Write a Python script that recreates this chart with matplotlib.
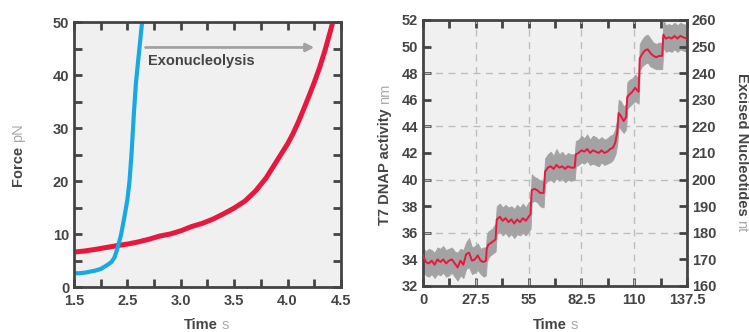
import matplotlib
matplotlib.use("Agg")
import matplotlib.pyplot as plt

plt.rcParams["font.family"] = ["Liberation Sans", "DejaVu Sans"]

DARK = "#444444"
LIGHT = "#aaaaaa"
BG = "#f0f0f0"
RED = "#e8173e"
BLUE = "#18a8e3"
GRAY = "#a3a3a3"

# ---- left panel: force vs time ----
force_xticks = [2.0, 2.5, 3.0, 3.5, 4.0, 4.5]
force_xticklabels = ["1.5", "2.5", "3.0", "3.5", "4.0", "4.5"]

blue_t = [2.01, 2.05, 2.1, 2.15, 2.2, 2.25, 2.3, 2.35, 2.38, 2.41, 2.44, 2.47,
          2.5, 2.52, 2.54, 2.56, 2.58, 2.6, 2.62, 2.64]
blue_f = [2.6, 2.6, 2.7, 2.9, 3.1, 3.4, 4.0, 4.7, 5.6, 7.5, 9.8, 13.0,
          16.5, 20.0, 25.5, 32.5, 38.5, 42.5, 46.5, 50.5]

red_t = [2.01, 2.1, 2.2, 2.3, 2.4, 2.5, 2.6, 2.7, 2.8, 2.9, 3.0, 3.1, 3.2, 3.3,
         3.4, 3.5, 3.6, 3.7, 3.8, 3.9, 4.0, 4.05, 4.1, 4.15, 4.2, 4.25, 4.3,
         4.35, 4.4, 4.43]
red_f = [6.6, 6.8, 7.1, 7.45, 7.8, 8.1, 8.5, 9.0, 9.6, 10.0, 10.6, 11.4, 12.0,
         12.8, 13.8, 14.9, 16.2, 18.1, 20.6, 23.8, 27.0, 28.9, 31.1, 33.5, 36.0,
         38.6, 41.4, 44.6, 48.2, 50.5]

# ---- right panel: T7 DNAP activity ----
act_xticks = [0, 27.5, 55, 82.5, 110, 137.5]
act_xticklabels = ["0", "27.5", "55", "82.5", "110", "137.5"]

act_t = [0, 1.5, 3, 4.5, 6, 7.5, 9, 10.5, 12, 13.5, 15, 16.5, 18, 19.5, 21,
         22.5, 24, 25.5, 27, 28.5, 30, 31.5, 32.8,
         33.2, 34.0, 35.0, 36.0, 37.8,
         38.4, 40, 41.5, 43, 44.5, 46, 47.5, 49, 50.5, 52, 53.5, 55, 56.0,
         56.6, 58, 59.5, 61, 62.8,
         63.6, 65, 66.5, 68, 69.5, 71, 72.5, 74, 75.5, 77, 79.0,
         79.6, 81, 82.5, 84, 85.5, 87, 88.5, 90, 91.5, 93, 94.5, 96, 97.5, 99,
         100.2, 101.2,
         101.9, 103, 104.5, 105.8,
         106.4, 107.5, 109, 110.5, 112.3,
         112.9, 114, 115.5, 117, 118.5, 120, 121.5, 123, 124.6,
         125.2, 126.5, 128, 129.5, 131, 132.5, 134, 135.5, 137.5]
act_filt = [34.3, 33.8, 33.7, 33.9, 33.6, 34.0, 33.8, 34.0, 33.7, 33.9, 34.0,
            33.7, 33.4, 33.9, 33.6, 34.4, 34.5, 33.9, 34.0, 34.3, 33.9, 33.8, 33.9,
            34.8, 35.1, 35.2, 35.3, 35.5,
            37.0, 37.2, 36.9, 37.1, 36.8, 37.0, 36.7, 37.0, 36.8, 37.1, 36.9, 37.2, 37.4,
            39.2, 39.3, 39.2, 39.0, 39.0,
            40.6, 40.9, 41.0, 40.8, 41.1, 40.9, 41.0, 40.8, 41.0, 40.9, 40.9,
            41.9, 42.0, 42.2, 42.1, 42.3, 42.0, 42.2, 42.1, 42.0, 42.2, 42.0, 42.1,
            42.3, 42.4, 42.8, 43.6,
            45.0, 44.8, 44.4, 44.7,
            46.2, 46.4, 46.6, 46.9, 46.6,
            49.1, 49.4, 49.7, 49.8, 49.5, 49.3, 49.2, 49.3, 49.3,
            50.9, 50.6, 50.7, 50.6, 50.8, 50.6, 50.8, 50.7, 50.6]
act_raw_hi = [34.9, 34.6, 34.8, 34.7, 34.5, 34.9, 34.8, 35.0, 34.7, 34.8, 34.9,
              34.6, 34.5, 34.8, 34.7, 35.3, 35.6, 34.9, 35.0, 35.2, 34.8, 34.9, 34.9,
              35.8, 36.1, 36.2, 36.3, 36.7,
              38.0, 38.2, 37.9, 38.1, 37.9, 38.0, 37.8, 38.1, 37.9, 38.2, 37.9, 38.3, 38.4,
              40.4, 40.2, 40.1, 39.9, 39.9,
              41.6, 41.9, 42.1, 41.8, 42.3, 41.9, 42.1, 41.8, 42.0, 41.9, 41.9,
              42.9, 43.0, 43.3, 43.1, 43.4, 43.0, 43.3, 43.2, 43.0, 43.2, 43.0, 43.1,
              43.3, 43.4, 43.8, 44.6,
              46.0, 45.9, 45.5, 45.7,
              47.3, 47.5, 47.6, 47.9, 47.6,
              50.2, 50.5, 50.8, 50.9, 50.6, 50.3, 50.2, 50.3, 50.3,
              52.0, 51.6, 51.7, 51.6, 51.8, 51.6, 51.8, 51.7, 51.6]
act_raw_lo = [33.1, 32.8, 32.7, 32.9, 32.6, 32.9, 32.8, 33.0, 32.7, 32.8, 33.0,
              32.7, 32.4, 32.8, 32.6, 33.3, 33.4, 32.9, 33.0, 33.2, 32.9, 32.7, 32.8,
              33.8, 34.1, 34.3, 34.4, 34.6,
              35.9, 36.1, 35.8, 36.0, 35.7, 35.9, 35.6, 35.9, 35.8, 36.0, 35.8, 36.1, 36.3,
              38.3, 38.4, 38.3, 38.0, 37.9,
              39.7, 39.9, 40.0, 39.8, 40.1, 39.9, 40.1, 39.8, 40.0, 39.9, 40.0,
              41.0, 41.1, 41.3, 41.2, 41.4, 41.1, 41.2, 41.1, 41.0, 41.3, 41.1, 41.2,
              41.3, 41.5, 41.9, 42.7,
              44.0, 43.8, 43.5, 43.8,
              45.3, 45.5, 45.7, 45.9, 45.7,
              48.2, 48.5, 48.7, 48.8, 48.5, 48.4, 48.3, 48.3, 48.3,
              49.9, 49.6, 49.7, 49.6, 49.8, 49.6, 49.8, 49.7, 49.6]


def style_axes(ax):
    ax.set_facecolor(BG)
    for sp in ax.spines.values():
        sp.set_color(DARK)
        sp.set_linewidth(2)
    ax.tick_params(which="both", direction="in", length=6, width=2,
                   color=DARK, labelcolor=DARK, labelsize=10.5)
    for lab in ax.get_xticklabels() + ax.get_yticklabels():
        lab.set_fontweight("bold")


def two_tone_label(fig, x, y, bold, light, rotation=0):
    t1 = fig.text(x, y, bold + " ", color=DARK, fontsize=10.5, fontweight="bold",
                  rotation=rotation, ha="center", va="center")
    if rotation == 90:
        fig.canvas.draw()
        return fig.text(0, 0, light, color=LIGHT, fontsize=10.5)
    return t1


fig = plt.figure(figsize=(7.49, 3.32), dpi=100)
ax1 = fig.add_axes([0.0988, 0.1355, 0.3564, 0.7982])
ax2 = fig.add_axes([0.5648, 0.1386, 0.3524, 0.8012])

# ---- left panel ----
ax1.plot(red_t, red_f, color=RED, lw=3.6, solid_capstyle="butt")
ax1.plot(blue_t, blue_f, color=BLUE, lw=3.0, solid_capstyle="butt")
ax1.set_xlim(2.0, 4.5)
ax1.set_ylim(0, 50)
ax1.set_xticks(force_xticks)
ax1.set_xticklabels(force_xticklabels)
ax1.set_xticks([2.25, 2.75, 3.25, 3.75, 4.25], minor=True)
ax1.set_yticks([0, 10, 20, 30, 40, 50])
ax1.set_yticks([5, 15, 25, 35, 45], minor=True)
ax1.tick_params(which="both", top=True, right=True)
style_axes(ax1)
ax1.tick_params(axis="x", pad=5)
ax1.annotate("", xy=(4.25, 45.2), xytext=(2.67, 45.2),
             arrowprops=dict(arrowstyle="-|>", color=GRAY, lw=2,
                             mutation_scale=12, shrinkA=0, shrinkB=0))
ax1.text(2.69, 42.6, "Exonucleolysis", color=DARK, fontsize=10.5,
         fontweight="bold", ha="left", va="center")

# ---- right panel ----
ax2.fill_between(act_t, act_raw_lo, act_raw_hi, color=GRAY, lw=0.6,
                 edgecolor=GRAY, zorder=2)
ax2.plot(act_t, act_filt, color=RED, lw=1.4, zorder=3)
ax2.set_xlim(0, 137.5)
ax2.set_ylim(32, 52)
ax2.set_xticks(act_xticks)
ax2.set_xticklabels(act_xticklabels)
ax2.set_xticks([13.75, 41.25, 68.75, 96.25, 123.75], minor=True)
ax2.set_yticks(range(32, 53, 2))
ax2.set_axisbelow(True)
for gx in act_xticks[1:-1]:
    ax2.axvline(gx, color="#bdbdbd", lw=1, dashes=(5, 4), zorder=1)
for gy in [36, 40, 44, 48]:
    ax2.axhline(gy, color="#bdbdbd", lw=1, dashes=(5, 4), zorder=1)
ax2.tick_params(which="both", top=True)
style_axes(ax2)
ax2.tick_params(axis="x", pad=5)

ax3 = ax2.twinx()
ax3.set_ylim(160, 260)
ax3.set_yticks(range(160, 261, 10))
for sp in ax3.spines.values():
    sp.set_visible(False)
ax3.tick_params(which="both", direction="in", length=6, width=2,
                color=DARK, labelcolor=DARK, labelsize=10.5)
for lab in ax3.get_yticklabels():
    lab.set_fontweight("bold")

# ---- axis labels (bold name + light unit) ----
lab_kw = dict(fontsize=10.5)
fig.canvas.draw()
r = fig.canvas.get_renderer()


def place_label(x, y, bold, light, rotation):
    a = fig.text(x, y, bold, color=DARK, fontweight="bold", rotation=rotation,
                 ha="center", va="center", **lab_kw)
    b = fig.text(x, y, light, color=LIGHT, rotation=rotation,
                 ha="center", va="center", **lab_kw)
    fig.canvas.draw()
    ba = a.get_window_extent(r)
    bb = b.get_window_extent(r)
    gap = 4
    W, H = fig.bbox.width, fig.bbox.height
    if rotation == 0:
        total = ba.width + gap + bb.width
        x0 = x * W - total / 2
        a.set_position(((x0 + ba.width / 2) / W, y))
        b.set_position(((x0 + ba.width + gap + bb.width / 2) / W, y))
    elif rotation == 90:
        total = ba.height + gap + bb.height
        y0 = y * H - total / 2
        a.set_position((x, (y0 + ba.height / 2) / H))
        b.set_position((x, (y0 + ba.height + gap + bb.height / 2) / H))
    else:
        total = ba.height + gap + bb.height
        y0 = y * H + total / 2
        a.set_position((x, (y0 - ba.height / 2) / H))
        b.set_position((x, (y0 - ba.height - gap - bb.height / 2) / H))


place_label(0.276, 0.022, "Time", "s", 0)
place_label(0.741, 0.022, "Time", "s", 0)
place_label(0.024, 0.535, "Force", "pN", 90)
place_label(0.514, 0.535, "T7 DNAP activity", "nm", 90)
place_label(0.990, 0.54, "Excised Nucleotides", "nt", 270)

fig.savefig("out.png", dpi=100)
